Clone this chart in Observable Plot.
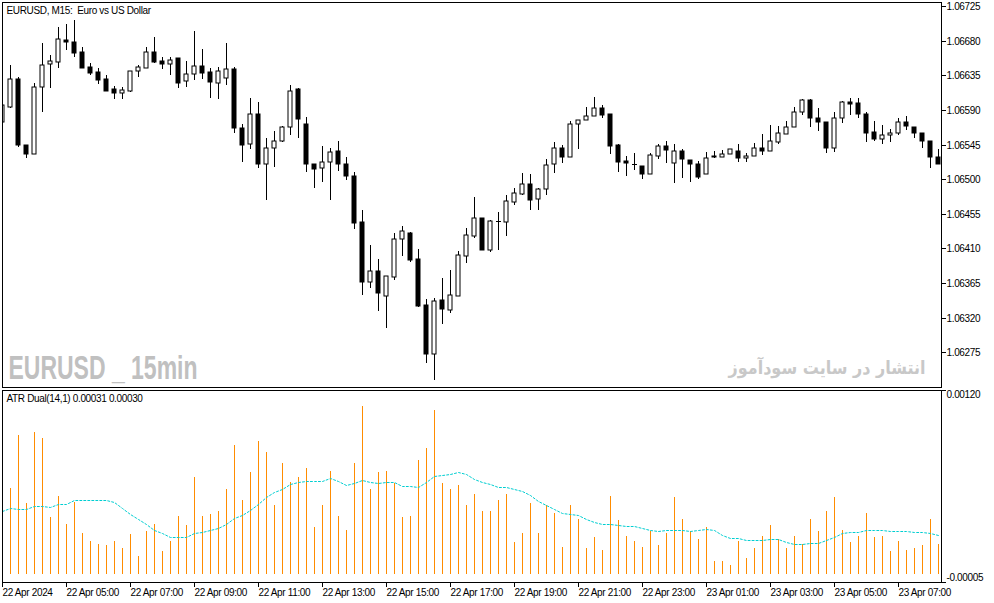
<!DOCTYPE html>
<html><head><meta charset="utf-8">
<script src="https://cdn.jsdelivr.net/npm/d3@7"></script>
<script src="https://cdn.jsdelivr.net/npm/@observablehq/plot@0.6"></script>
<style>
html,body{margin:0;padding:0;background:#fff;}
#chart{width:994px;height:603px;overflow:hidden;background:#fff;}
#chart svg{display:block;}
</style></head><body><div id="chart"></div>
<script>
// ---- data (EURUSD M15, bar index 0 = 22 Apr 03:00) ----
const open = [
1.06574,1.06594,1.06630,1.06545,1.06533,1.06620,1.06650,1.06652,1.06681,1.06678,
1.06665,1.06646,1.06639,1.06630,1.06617,1.06612,1.06615,1.06641,1.06645,1.06665,
1.06654,1.06650,1.06658,1.06628,1.06637,1.06647,1.06639,1.06625,1.06632,1.06643,
1.06567,1.06546,1.06585,1.06520,1.06541,1.06550,1.06568,1.06617,1.06572,1.06520,
1.06515,1.06522,1.06537,1.06520,1.06504,1.06444,1.06366,1.06381,1.06348,1.06373,
1.06422,1.06430,1.06396,1.06337,1.06273,1.06343,1.06330,1.06348,1.06400,1.06426,
1.06450,1.06408,1.06446,1.06444,1.06470,1.06481,1.06494,1.06474,1.06487,1.06520,
1.06541,1.06529,1.06572,1.06577,1.06582,1.06593,1.06585,1.06545,1.06524,1.06520,
1.06517,1.06507,1.06530,1.06543,1.06521,1.06537,1.06525,1.06520,1.06507,1.06529,
1.06529,1.06533,1.06537,1.06528,1.06530,1.06541,1.06537,1.06548,1.06559,1.06568,
1.06587,1.06603,1.06580,1.06574,1.06541,1.06580,1.06600,1.06599,1.06585,1.06561,
1.06552,1.06558,1.06560,1.06574,1.06568,1.06560,1.06550,1.06529];
const high = [
1.06599,1.06649,1.06633,1.06545,1.06625,1.06677,1.06662,1.06698,1.06702,1.06707,
1.06672,1.06651,1.06645,1.06636,1.06621,1.06620,1.06641,1.06649,1.06672,1.06685,
1.06659,1.06659,1.06658,1.06654,1.06693,1.06669,1.06645,1.06646,1.06677,1.06646,
1.06572,1.06606,1.06600,1.06554,1.06563,1.06569,1.06622,1.06619,1.06581,1.06520,
1.06543,1.06541,1.06550,1.06529,1.06509,1.06460,1.06415,1.06396,1.06374,1.06430,
1.06439,1.06431,1.06409,1.06344,1.06346,1.06372,1.06382,1.06407,1.06437,1.06477,
1.06450,1.06447,1.06457,1.06480,1.06489,1.06508,1.06507,1.06489,1.06526,1.06548,
1.06545,1.06576,1.06577,1.06594,1.06607,1.06597,1.06585,1.06546,1.06530,1.06534,
1.06517,1.06534,1.06546,1.06550,1.06546,1.06539,1.06525,1.06524,1.06535,1.06537,
1.06538,1.06539,1.06546,1.06534,1.06547,1.06559,1.06571,1.06569,1.06576,1.06594,
1.06604,1.06604,1.06593,1.06574,1.06587,1.06602,1.06606,1.06606,1.06587,1.06576,
1.06571,1.06565,1.06580,1.06582,1.06568,1.06560,1.06550,1.06539];
const low = [
1.06572,1.06593,1.06542,1.06528,1.06533,1.06587,1.06619,1.06645,1.06668,1.06659,
1.06645,1.06636,1.06624,1.06615,1.06604,1.06604,1.06613,1.06633,1.06645,1.06651,
1.06643,1.06636,1.06619,1.06620,1.06629,1.06630,1.06606,1.06604,1.06622,1.06560,
1.06522,1.06539,1.06515,1.06473,1.06516,1.06548,1.06558,1.06554,1.06509,1.06489,
1.06496,1.06473,1.06511,1.06499,1.06435,1.06350,1.06359,1.06329,1.06307,1.06369,
1.06400,1.06392,1.06334,1.06261,1.06239,1.06312,1.06326,1.06348,1.06391,1.06424,
1.06408,1.06405,1.06408,1.06426,1.06467,1.06480,1.06460,1.06460,1.06480,1.06508,
1.06521,1.06529,1.06539,1.06577,1.06582,1.06580,1.06533,1.06509,1.06504,1.06512,
1.06500,1.06507,1.06526,1.06521,1.06495,1.06502,1.06496,1.06500,1.06507,1.06528,
1.06529,1.06533,1.06522,1.06522,1.06530,1.06532,1.06537,1.06546,1.06559,1.06568,
1.06584,1.06568,1.06563,1.06534,1.06535,1.06573,1.06584,1.06580,1.06548,1.06550,
1.06546,1.06548,1.06558,1.06564,1.06554,1.06541,1.06515,1.06520];
const close = [
1.06597,1.06630,1.06545,1.06533,1.06620,1.06649,1.06654,1.06682,1.06678,1.06664,
1.06645,1.06638,1.06629,1.06615,1.06612,1.06616,1.06641,1.06646,1.06665,1.06652,
1.06650,1.06655,1.06625,1.06637,1.06647,1.06638,1.06626,1.06641,1.06643,1.06567,
1.06545,1.06585,1.06520,1.06541,1.06550,1.06568,1.06615,1.06578,1.06520,1.06513,
1.06522,1.06535,1.06520,1.06504,1.06443,1.06366,1.06381,1.06352,1.06374,1.06422,
1.06433,1.06395,1.06335,1.06273,1.06342,1.06331,1.06350,1.06402,1.06428,1.06450,
1.06408,1.06446,1.06446,1.06472,1.06482,1.06494,1.06473,1.06487,1.06519,1.06541,
1.06529,1.06572,1.06577,1.06582,1.06593,1.06584,1.06543,1.06522,1.06521,1.06520,
1.06507,1.06532,1.06543,1.06538,1.06537,1.06526,1.06520,1.06503,1.06528,1.06530,
1.06533,1.06539,1.06528,1.06530,1.06541,1.06537,1.06550,1.06560,1.06568,1.06587,
1.06603,1.06580,1.06574,1.06541,1.06580,1.06600,1.06598,1.06585,1.06560,1.06552,
1.06558,1.06560,1.06574,1.06569,1.06560,1.06550,1.06529,1.06520];
// ATR(1) histogram and ATR(14) dotted line
const atr1 = [null,
0.000564,0.000907,0.000466,0.000929,0.000889,0.000373,0.000512,0.000330,0.000471,0.000271,
0.000219,0.000197,0.000191,0.000219,0.000171,0.000262,0.000119,0.000284,0.000330,0.000154,
0.000219,0.000382,0.000321,0.000636,0.000382,0.000393,0.000414,0.000557,0.000844,0.000486,
0.000668,0.000870,0.000798,0.000453,0.000727,0.000603,0.000636,0.000694,0.000310,0.000453,
0.000672,0.000380,0.000288,0.000724,0.001096,0.000555,0.000666,0.000672,0.000596,0.000373,
0.000380,0.000744,0.000822,0.001070,0.000594,0.000555,0.000581,0.000451,0.000523,0.000412,
0.000412,0.000484,0.000523,0.000210,0.000271,0.000464,0.000271,0.000451,0.000399,0.000178,
0.000451,0.000360,0.000171,0.000243,0.000158,0.000510,0.000353,0.000249,0.000217,0.000178,
0.000282,0.000191,
0.000271,0.000503,0.000360,0.000282,0.000230,0.000308,0.000087,0.000087,0.000061,0.000217,
0.000106,0.000171,0.000249,0.000321,0.000230,0.000171,0.000249,0.000197,0.000360,0.000282,
0.000412,0.000503,0.000288,0.000210,0.000249,0.000399,0.000243,0.000249,0.000152,0.000217,
0.000158,0.000171,0.000191,0.000360,0.000197];
const atr14 = [
0.000412,0.000430,0.000423,0.000423,0.000447,0.000447,0.000438,0.000456,0.000458,0.000482,
0.000484,0.000486,0.000486,0.000482,0.000469,0.000434,0.000395,0.000358,0.000326,0.000286,
0.000269,0.000243,0.000243,0.000241,0.000267,0.000275,0.000286,0.000304,0.000326,0.000365,
0.000386,0.000417,0.000460,0.000501,0.000534,0.000555,0.000590,0.000601,0.000605,0.000605,
0.000605,
0.000625,0.000609,0.000581,0.000596,0.000614,0.000599,0.000596,0.000603,0.000599,0.000577,
0.000573,0.000566,0.000599,0.000642,0.000644,0.000655,0.000668,0.000655,0.000618,0.000603,
0.000588,0.000570,0.000570,0.000555,0.000540,0.000514,0.000477,0.000449,0.000425,0.000399,
0.000391,0.000386,0.000362,0.000342,0.000329,0.000326,0.000319,0.000316,0.000312,0.000299,
0.000286,0.000282,
0.000286,0.000288,0.000286,0.000280,0.000286,0.000295,0.000286,0.000256,0.000236,0.000234,
0.000223,0.000221,0.000223,0.000228,0.000228,0.000208,0.000197,0.000195,0.000202,0.000204,
0.000221,0.000245,0.000269,0.000273,0.000275,0.000290,0.000290,0.000286,0.000284,0.000284,
0.000280,0.000277,0.000275,0.000269,0.000258];
const priceTicks = [1.06725,1.06680,1.06635,1.06590,1.06545,1.06500,1.06455,1.06410,1.06365,1.06320,1.06275];
const atrTicks = [0.00120, -0.00005];
const timeTickBars = [0,8,16,24,32,40,48,56,64,72,80,88,96,104,112];
const timeTickLabels = ["22 Apr 2024","22 Apr 05:00","22 Apr 07:00","22 Apr 09:00","22 Apr 11:00","22 Apr 13:00","22 Apr 15:00","22 Apr 17:00","22 Apr 19:00","22 Apr 21:00","22 Apr 23:00","23 Apr 01:00","23 Apr 03:00","23 Apr 05:00","23 Apr 07:00"];
const titleText = "EURUSD, M15:\u00a0 Euro vs US Dollar";
const atrLabel = "ATR Dual(14,1) 0.00031 0.00030";
const wmLeft = "EURUSD _ 15min";
const wmRight = "انتشار در سایت سودآموز";

// ---- build ----
const bars = open.map((o, i) => ({i, open: o, high: high[i], low: low[i], close: close[i], atr1: atr1[i], atr14: atr14[i]}));
const up = bars.filter(d => d.close > d.open);
const down = bars.filter(d => d.close < d.open);
const doji = bars.filter(d => d.close === d.open);
const labelOf = new Map(timeTickBars.map((b, j) => [b, timeTickLabels[j]]));
const HALF = 0.25;
const FONT = "'Liberation Sans', Arial, sans-serif";
const baseStyle = {fontFamily: FONT, fontSize: "10px", letterSpacing: "-0.35px", background: "#fff", color: "#000", overflow: "visible"};
const xOpt = {type: "linear", domain: [0, 117], range: [2, 938], round: true, axis: null};

const mainPlot = Plot.plot({
  width: 994, height: 389, marginLeft: 2, marginRight: 53, marginTop: 2, marginBottom: 2,
  style: baseStyle,
  x: xOpt,
  y: {domain: [1.062299, 1.067304], range: [387, 2], round: true, axis: null, label: null},
  marks: [
    Plot.text([wmLeft], {frameAnchor: "bottom-left", dx: 6, dy: -19, textAnchor: "start", lineAnchor: "middle",
      fontFamily: "'Liberation Sans', sans-serif", fontWeight: "bold", fontSize: 33, fill: "#c0c0c0"}),
    Plot.text([wmRight], {frameAnchor: "bottom-right", dx: -16, dy: -19, textAnchor: "end", lineAnchor: "middle",
      fontFamily: "'DejaVu Sans', sans-serif", fontWeight: "bold", fontSize: 18, fill: "#c8c8c8"}),
    Plot.ruleX(bars, {x: "i", y1: "low", y2: "high", stroke: "#000", strokeWidth: 1, clip: true}),
    Plot.rect(down, {x1: d => d.i - HALF, x2: d => d.i + HALF, y1: "open", y2: "close", fill: "#000", stroke: "#000", clip: true}),
    Plot.rect(up, {x1: d => d.i - HALF, x2: d => d.i + HALF, y1: "open", y2: "close", fill: "#fff", stroke: "#000", clip: true}),
    Plot.ruleY(doji, {y: "open", x1: d => d.i - 0.3125, x2: d => d.i + 0.3125, stroke: "#000"}),
    Plot.frame({stroke: "#000"}),
    Plot.axisY({anchor: "right", ticks: priceTicks, tickFormat: d => d.toFixed(5), tickSize: 4, tickPadding: 1, label: null}),
    Plot.text([titleText], {frameAnchor: "top-left", dx: 4, dy: 8, textAnchor: "start", lineAnchor: "middle", fill: "#000", fontSize: 10})
  ]
});

const atrPlot = Plot.plot({
  width: 994, height: 214, marginLeft: 2, marginRight: 53, marginTop: 1, marginBottom: 21,
  style: baseStyle,
  x: xOpt,
  y: {domain: [-0.00005, 0.00120], range: [193, 1], round: true, axis: null, label: null},
  marks: [
    Plot.ruleX(bars.filter(d => d.atr1 != null), {x: "i", y1: 0, y2: "atr1", stroke: "#ff8c00", strokeWidth: 1}),
    Plot.line(bars, {x: "i", y: "atr14", stroke: "#00ced1", strokeWidth: 1, strokeDasharray: "2,2"}),
    Plot.frame({stroke: "#000"}),
    Plot.axisX({anchor: "bottom", ticks: timeTickBars, tickFormat: d => labelOf.get(d), tickSize: 5, tickPadding: 1, textAnchor: "start", label: null}),
    Plot.axisY({anchor: "right", ticks: atrTicks, tickSize: 4, tickFormat: () => "", label: null}),
    Plot.text([atrTicks[0]], {y: d => d, frameAnchor: "right", dx: 5, dy: 4, textAnchor: "start", text: d => d.toFixed(5), fill: "#000"}),
    Plot.text([atrTicks[1]], {y: d => d, frameAnchor: "right", dx: 5, dy: -5, textAnchor: "start", text: d => d.toFixed(5), fill: "#000"}),
    Plot.text([atrLabel], {frameAnchor: "top-left", dx: 4, dy: 8, textAnchor: "start", lineAnchor: "middle", fill: "#000", fontSize: 10})
  ]
});

const root = document.getElementById("chart");
root.appendChild(mainPlot);
root.appendChild(atrPlot);

// fit the watermark texts to the widths seen in the reference
const fitWidths = new Map([[wmLeft, 189], [wmRight, 197]]);
mainPlot.querySelectorAll("text").forEach(t => {
  const w = fitWidths.get(t.textContent);
  if (w) {
    t.setAttribute("textLength", w);
    t.setAttribute("lengthAdjust", "spacingAndGlyphs");
    t.style.letterSpacing = "0px";
  }
});
</script></body></html>
